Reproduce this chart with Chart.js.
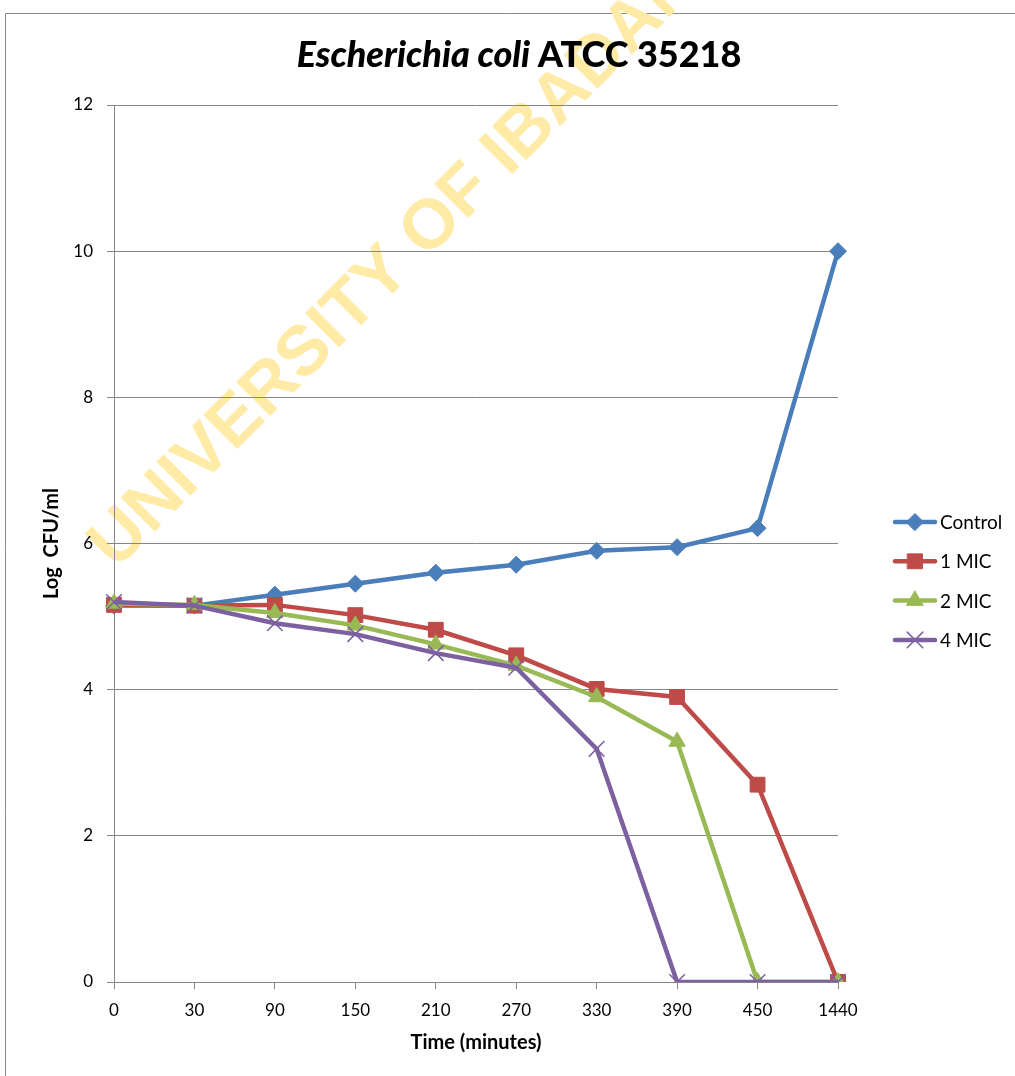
<!DOCTYPE html>
<html>
<head>
<meta charset="utf-8">
<script src="https://cdn.jsdelivr.net/npm/chart.js@4/dist/chart.umd.min.js"></script>
<style>
  html, body { margin: 0; padding: 0; background: #fff; }
  #wrap { position: relative; width: 1015px; height: 1076px; }
</style>
</head>
<body>
<div id="wrap"><canvas id="timeKill"></canvas></div>
<script>
// Time-kill curve, E. coli ATCC 35218
const timeLabels = ['0', '30', '90', '150', '210', '270', '330', '390', '450', '1440'];
const seriesNames = ['Control', '1 MIC', '2 MIC', '4 MIC'];
const control = [5.15, 5.15, 5.30, 5.45, 5.60, 5.71, 5.90, 5.95, 6.21, 10];
const mic1 = [5.16, 5.15, 5.16, 5.02, 4.82, 4.47, 4.01, 3.90, 2.70, 0];
const mic2 = [5.18, 5.16, 5.05, 4.88, 4.62, 4.33, 3.90, 3.29, 0, 0];
const mic4 = [5.20, 5.15, 4.91, 4.76, 4.50, 4.30, 3.19, 0, 0, 0];
const yTicks = [0, 2, 4, 6, 8, 10, 12];

const FONT = 'Lato, "Open Sans", sans-serif';
const GRID = '#868686';

function makeSet(label, data, color, style, radius, order) {
    return {
        label: label,
        data: data,
        borderColor: color,
        backgroundColor: color,
        borderWidth: 4.5,
        tension: 0,
        pointStyle: style,
        pointRadius: radius,
        pointHoverRadius: radius,
        pointBackgroundColor: color,
        pointBorderColor: color,
        pointBorderWidth: style === 'crossRot' ? 1.5 : 1,
        order: order
    };
}

const datasets = [
    makeSet(seriesNames[0], control, '#4A7EBB', 'rectRot', 8.5, 4),
    makeSet(seriesNames[1], mic1, '#BE4B48', 'rect', 10.5, 3),
    makeSet(seriesNames[2], mic2, '#98B954', 'triangle', 9.5, 2),
    makeSet(seriesNames[3], mic4, '#7D60A0', 'crossRot', 11, 1)
];

// page frame + watermark behind everything
const backdrop = {
    id: 'backdrop',
    beforeDraw(chart) {
        const ctx = chart.ctx;
        ctx.save();
        ctx.fillStyle = '#fff';
        ctx.fillRect(0, 0, chart.width, chart.height);
        ctx.strokeStyle = '#8a8a8a';
        ctx.lineWidth = 1;
        ctx.beginPath();
        ctx.moveTo(5.5, chart.height);
        ctx.lineTo(5.5, 13.5);
        ctx.lineTo(chart.width, 13.5);
        ctx.stroke();

        ctx.translate(395, 264);
        ctx.rotate(-Math.PI / 4);
        ctx.font = 'bold 70px "Liberation Sans", Arial, sans-serif';
        ctx.fillStyle = '#FFEAA6';
        ctx.textAlign = 'center';
        ctx.textBaseline = 'middle';
        ctx.fillText('UNIVERSITY OF IBADAN', 0, 0);
        ctx.restore();
    }
};

// mixed italic / bold title and the legend on the right
const overlay = {
    id: 'overlay',
    afterDraw(chart) {
        const ctx = chart.ctx;
        ctx.save();
        const italicPart = 'Escherichia coli ';
        const plainPart = 'ATCC 35218';
        const fItalic = 'italic 900 36px ' + FONT;
        const fBold = '900 36px ' + FONT;
        ctx.font = fItalic;
        const w1 = ctx.measureText(italicPart).width;
        ctx.font = fBold;
        const w2 = ctx.measureText(plainPart).width;
        let x = 519 - (w1 + w2) / 2;
        ctx.fillStyle = '#000';
        ctx.textBaseline = 'middle';
        ctx.textAlign = 'left';
        ctx.font = fItalic;
        ctx.fillText(italicPart, x, 55);
        ctx.font = fBold;
        ctx.fillText(plainPart, x + w1, 55);

        // legend
        ctx.font = '19px ' + FONT;
        chart.data.datasets.forEach((ds, i) => {
            const y = 522 + i * 39.3;
            ctx.strokeStyle = ds.borderColor;
            ctx.lineWidth = 4.5;
            ctx.lineCap = 'round';
            ctx.beginPath();
            ctx.moveTo(895, y);
            ctx.lineTo(935, y);
            ctx.stroke();
            ctx.fillStyle = ds.borderColor;
            ctx.lineWidth = ds.pointBorderWidth;
            Chart.helpers.drawPoint(ctx, {
                pointStyle: ds.pointStyle,
                radius: ds.pointRadius,
                borderWidth: ds.pointBorderWidth,
                rotation: 0
            }, 915, y);
            ctx.fillStyle = '#000';
            ctx.fillText(ds.label, 940, y + 1);
        });
        ctx.restore();
    }
};

new Chart(document.getElementById('timeKill'), {
    type: 'line',
    data: {
        labels: timeLabels,
        datasets: datasets
    },
    options: {
        responsive: true,
        maintainAspectRatio: false,
        animation: false,
        layout: {
            padding: { top: 105, right: 177, bottom: 0, left: 0 }
        },
        scales: {
            x: {
                type: 'category',
                offset: false,
                grid: {
                    drawOnChartArea: false,
                    drawTicks: true,
                    tickLength: 7,
                    color: GRID
                },
                border: { color: GRID, width: 1 },
                ticks: {
                    color: '#000',
                    padding: 11,
                    maxRotation: 0,
                    autoSkip: false,
                    font: { family: FONT, size: 17 }
                },
                title: {
                    display: true,
                    text: 'Time (minutes)',
                    color: '#000',
                    padding: { top: 0, bottom: 21 },
                    font: { family: FONT, size: 20, weight: 'bold' }
                },
                afterFit(scale) { scale.height = 94; }
            },
            y: {
                min: 0,
                max: 12,
                afterBuildTicks(scale) {
                    scale.ticks = yTicks.map(v => ({ value: v }));
                },
                grid: {
                    color: GRID,
                    lineWidth: 1,
                    tickLength: 7
                },
                border: { color: GRID, width: 1 },
                ticks: {
                    color: '#000',
                    padding: 14,
                    font: { family: FONT, size: 17 }
                },
                title: {
                    display: true,
                    text: 'Log  CFU/ml',
                    color: '#000',
                    padding: { top: 40, bottom: 0 },
                    font: { family: FONT, size: 20, weight: 'bold' }
                },
                afterFit(scale) { scale.width = 114; }
            }
        },
        plugins: {
            legend: { display: false },
            title: { display: false },
            tooltip: { enabled: false }
        }
    },
    plugins: [backdrop, overlay]
});
</script>
</body>
</html>
